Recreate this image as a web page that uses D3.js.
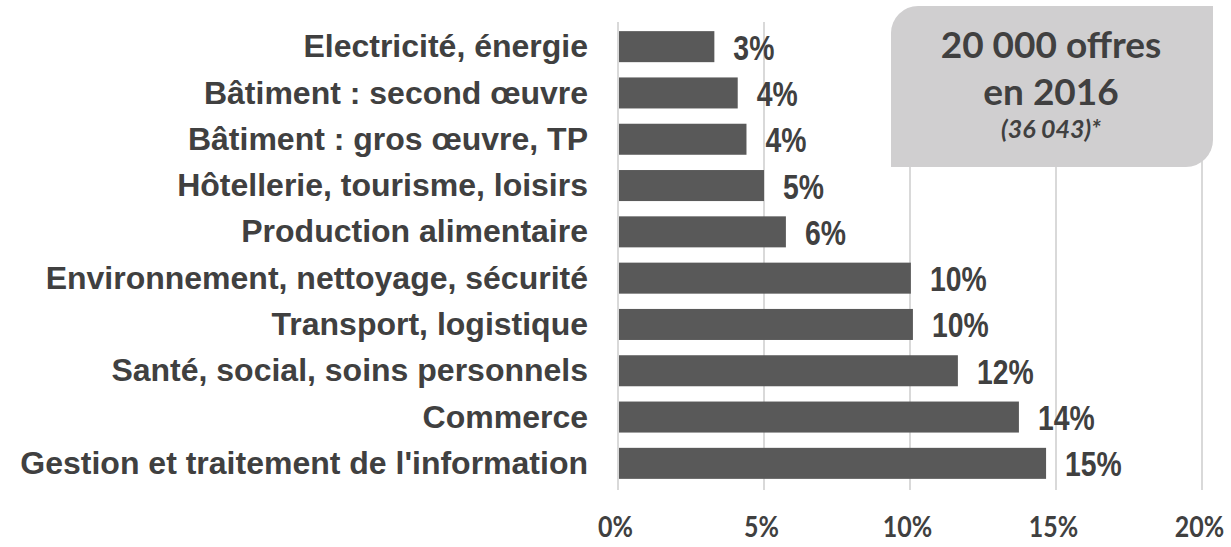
<!DOCTYPE html>
<html>
<head>
<meta charset="utf-8">
<script src="https://cdn.jsdelivr.net/npm/d3@7"></script>
<style>
  body { margin: 0; background: #fff; }
  svg { display: block; }
</style>
</head>
<body>
<div id="container"></div>
<script>
// data
const categories = [
    "Electricité, énergie",
    "Bâtiment : second œuvre",
    "Bâtiment : gros œuvre, TP",
    "Hôtellerie, tourisme, loisirs",
    "Production alimentaire",
    "Environnement, nettoyage, sécurité",
    "Transport, logistique",
    "Santé, social, soins personnels",
    "Commerce",
    "Gestion et traitement de l'information"
]
const values = [3.3, 4.1, 4.4, 5.0, 5.75, 10.03, 10.1, 11.64, 13.73, 14.66]
const valueLabels = ["3%", "4%", "4%", "5%", "6%", "10%", "10%", "12%", "14%", "15%"]
const xTicks = [0, 5, 10, 15, 20]
const boxLines = ["20 000 offres", "en 2016", "(36 043)*"]

const width = 1231
const height = 547
const textColor = '#404040'

// narrow fonts are not installed, so squeeze the glyphs horizontally
const squeeze = (sel, factor) => {
    sel.each(function () {
        const w = this.getComputedTextLength()
        d3.select(this)
            .attr('textLength', w * factor)
            .attr('lengthAdjust', 'spacingAndGlyphs')
    })
}

const svg = d3.select('#container').append('svg')
    .attr('width', width).attr('height', height)

const xScale = d3.scaleLinear()
    .domain([0, 20])
    .range([618, 1202])

const yScale = d3.scaleBand()
    .domain(categories)
    .range([23.5, 486.5])
    .paddingInner(0.33)
    .paddingOuter(0.165)

// gridlines
svg.append('g').attr('class', 'grid').selectAll('line')
    .data(xTicks)
    .enter()
    .append('line')
    .attr('x1', d => xScale(d)).attr('x2', d => xScale(d))
    .attr('y1', 22).attr('y2', 490)
    .attr('stroke', '#d9d9d9')
    .attr('stroke-width', 2)

// annotation box (rounded top-left and bottom-right corners)
const bx = 891, by = 6, bw = 322, bh = 161, r = 27
svg.append('path')
    .attr('d', `M${bx},${by + r} A${r},${r} 0 0 1 ${bx + r},${by} L${bx + bw},${by} L${bx + bw},${by + bh - r} A${r},${r} 0 0 1 ${bx + bw - r},${by + bh} L${bx},${by + bh} Z`)
    .attr('fill', '#d0cfd0')

const boxText = svg.append('g')
    .attr('text-anchor', 'middle')
    .attr('font-family', 'Lato, "Open Sans", sans-serif')
    .attr('font-weight', 'bold')
    .attr('fill', textColor)
boxText.append('text')
    .attr('x', bx + bw / 2 - 1).attr('y', 58)
    .attr('font-size', 37)
    .text(boxLines[0])
boxText.append('text')
    .attr('x', bx + bw / 2 - 1).attr('y', 105)
    .attr('font-size', 37)
    .text(boxLines[1])
boxText.append('text')
    .attr('x', bx + bw / 2 - 1).attr('y', 138)
    .attr('font-style', 'italic')
    .attr('font-size', 25)
    .text(boxLines[2])

// bars
svg.append('g').selectAll('rect')
    .data(values)
    .enter()
    .append('rect')
    .attr('x', xScale(0) + 1)
    .attr('y', (d, i) => yScale(categories[i]))
    .attr('width', d => xScale(d) - xScale(0) - 1)
    .attr('height', yScale.bandwidth())
    .attr('fill', '#595959')

// value labels
svg.append('g').selectAll('text')
    .data(values)
    .enter()
    .append('text')
    .attr('x', d => xScale(d) + 19)
    .attr('y', (d, i) => yScale(categories[i]) + yScale.bandwidth() / 2 + 13)
    .attr('font-family', '"Liberation Sans", Arial, sans-serif')
    .attr('font-weight', 'bold')
    .attr('font-size', 35)
    .attr('fill', textColor)
    .text((d, i) => valueLabels[i])
    .call(squeeze, 0.81)

// category axis
const yAxis = d3.axisLeft(yScale).tickSize(0).tickPadding(30)
const yG = svg.append('g')
    .attr('transform', `translate(${xScale(0)}, 0)`)
    .call(yAxis)
yG.select('.domain').remove()
yG.selectAll('text')
    .attr('font-family', '"Liberation Sans", Arial, sans-serif')
    .attr('font-weight', 'bold')
    .attr('font-size', 32)
    .attr('fill', textColor)
    .attr('dy', '0.33em')

// percent axis
const xAxis = d3.axisBottom(xScale)
    .tickValues(xTicks)
    .tickSize(0)
    .tickPadding(0)
    .tickFormat(d => d + '%')
const xG = svg.append('g')
    .attr('transform', 'translate(-3, 537)')
    .call(xAxis)
xG.select('.domain').remove()
xG.selectAll('text')
    .attr('dy', 0)
    .attr('font-family', 'Lato, "Open Sans", sans-serif')
    .attr('font-weight', 'bold')
    .attr('font-size', 29)
    .attr('fill', textColor)
    .call(squeeze, 0.86)
</script>
</body>
</html>
